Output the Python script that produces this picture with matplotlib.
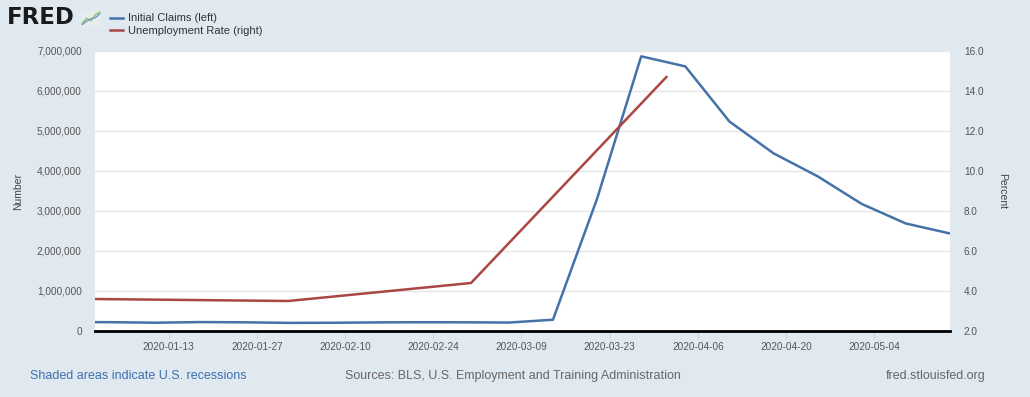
"""
FRED chart: weekly initial claims (left axis) vs. monthly unemployment rate
(right axis), January - May 2020.
"""

import numpy as np
import pandas as pd
import matplotlib
matplotlib.use('Agg')
import matplotlib.pyplot as plt
import matplotlib.dates as mdates
from matplotlib.ticker import FuncFormatter, FixedLocator

plt.rcParams['font.family'] = ['Liberation Sans', 'DejaVu Sans']

# ---- data ----
# weekly initial claims (week ending Saturday); the Dec 28 point is clipped at the left edge
claims_dates = ['2019-12-28', '2020-01-04', '2020-01-11', '2020-01-18', '2020-01-25',
                '2020-02-01', '2020-02-08', '2020-02-15', '2020-02-22', '2020-02-29',
                '2020-03-07', '2020-03-14', '2020-03-21', '2020-03-28', '2020-04-04',
                '2020-04-11', '2020-04-18', '2020-04-25', '2020-05-02', '2020-05-09',
                '2020-05-16']
claims = [225000, 220000, 207000, 223000, 217000,
          203000, 206000, 215000, 219000, 217000,
          211000, 282000, 3307000, 6867000, 6615000,
          5237000, 4442000, 3867000, 3176000, 2687000,
          2438000]

unrate_dates = ['2019-12-01', '2020-01-01', '2020-02-01', '2020-03-01', '2020-04-01']
unrate = [3.6, 3.6, 3.5, 4.4, 14.7]

xtick_dates = ['2020-01-13', '2020-01-27', '2020-02-10', '2020-02-24', '2020-03-09',
               '2020-03-23', '2020-04-06', '2020-04-20', '2020-05-04']
left_ticks = [0, 1000000, 2000000, 3000000, 4000000, 5000000, 6000000, 7000000]
right_ticks = [2.0, 4.0, 6.0, 8.0, 10.0, 12.0, 14.0, 16.0]

x_start, x_end = '2020-01-01 08:00', '2020-05-16'

# ---- style ----
bg = '#e1e9f0'
blue = '#4572a7'
red = '#aa4643'
tick_col = '#555555'

W, H = 1030, 397
fig = plt.figure(figsize=(W / 100, H / 100), dpi=100, facecolor=bg)

L, R, T, B = 95, 950, 51, 331
ax = fig.add_axes([L / W, 1 - B / H, (R - L) / W, (B - T) / H])
ax.set_facecolor('white')

cd = pd.to_datetime(claims_dates)
ud = pd.to_datetime(unrate_dates)

ax.plot(cd, claims, color=blue, lw=1.8, zorder=3, label='Initial Claims (left)')
ax.set_ylim(0, 7000000)
ax.set_xlim(pd.Timestamp(x_start), pd.Timestamp(x_end))
ax.yaxis.set_major_locator(FixedLocator(left_ticks))
ax.yaxis.set_major_formatter(FuncFormatter(lambda v, p: f'{int(v):,}'))
ax.grid(axis='y', color='#e6e6e6', lw=1, zorder=0)
ax.set_ylabel('Number', fontsize=7.5, color='#444444', va='center')
ax.yaxis.set_label_coords((18 - L) / (R - L), 0.5)

ax.xaxis.set_major_locator(FixedLocator(mdates.date2num(pd.to_datetime(xtick_dates))))
ax.xaxis.set_major_formatter(mdates.DateFormatter('%Y-%m-%d'))
ax.tick_params(axis='x', length=6, width=0.8, color='#ccd6eb', labelsize=7.2,
               labelcolor=tick_col, pad=2)
ax.tick_params(axis='y', length=0, labelsize=7.2, labelcolor=tick_col, pad=9.5)

for s in ['top', 'left', 'right']:
    ax.spines[s].set_visible(False)
ax.spines['bottom'].set_color('black')
ax.spines['bottom'].set_linewidth(2)
ax.spines['bottom'].set_zorder(5)

ax2 = ax.twinx()
ax2.plot(ud, unrate, color=red, lw=1.8, zorder=3, label='Unemployment Rate (right)')
ax2.set_ylim(2, 16)
ax2.yaxis.set_major_locator(FixedLocator(right_ticks))
ax2.yaxis.set_major_formatter(FuncFormatter(lambda v, p: f'{v:.1f}'))
ax2.tick_params(axis='y', length=0, labelsize=7.2, labelcolor=tick_col, pad=10)
ax2.set_ylabel('Percent', fontsize=7.5, color='#444444', rotation=270, va='center')
ax2.yaxis.set_label_coords((1002 - L) / (R - L), 0.5)
for s in ['top', 'left', 'right', 'bottom']:
    ax2.spines[s].set_visible(False)
ax2.set_xlim(pd.Timestamp(x_start), pd.Timestamp(x_end))

# ---- header: logo + legend ----
fig.text(7 / W, 1 - 18 / H, 'FRED', fontsize=16.5, fontweight='bold', color='#1a1a1a',
         va='center', ha='left', family='DejaVu Sans')
icon = fig.add_axes([81 / W, 1 - 27 / H, 20 / W, 17 / H])
icon.set_facecolor('#e8ecef')
icon.plot([0, 1, 2, 3, 4], [0.5, 1.5, 1.0, 2.2, 2.8], color='#8fbf5a', lw=1)
icon.plot([0, 1, 2, 3, 4], [0.2, 0.9, 1.4, 1.6, 2.4], color='#6d9bd1', lw=1)
icon.set_xlim(-0.3, 4.3)
icon.set_ylim(-0.3, 3.2)
icon.set_xticks([])
icon.set_yticks([])
for s in icon.spines.values():
    s.set_visible(False)

h1, l1 = ax.get_legend_handles_labels()
h2, l2 = ax2.get_legend_handles_labels()
fig.legend(h1 + h2, l1 + l2, loc='upper left', bbox_to_anchor=(106 / W, 1 - 9 / H),
           frameon=False, fontsize=8, handlelength=1.1, handletextpad=0.5,
           labelspacing=0.25, borderaxespad=0, labelcolor='#333333')

# ---- footer ----
fig.text(30 / W, 1 - 376 / H, 'Shaded areas indicate U.S. recessions', fontsize=9,
         color='#3d6fae', va='center', ha='left')
fig.text(345 / W, 1 - 376 / H, 'Sources: BLS, U.S. Employment and Training Administration',
         fontsize=9, color='#666666', va='center', ha='left')
fig.text(986 / W, 1 - 376 / H, 'fred.stlouisfed.org', fontsize=9,
         color='#666666', va='center', ha='right')

plt.savefig('out.png', dpi=100, facecolor=bg)
plt.close()
